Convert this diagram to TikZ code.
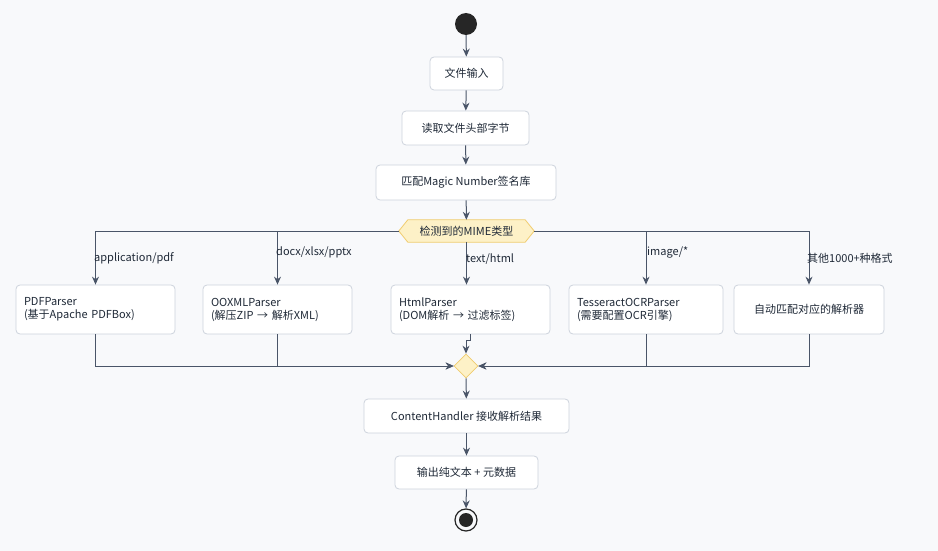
\documentclass[tikz,border=0pt]{standalone}
\usepackage{fontspec}
\setmainfont{Noto Sans CJK SC}
\usetikzlibrary{shapes.geometric,arrows.meta}
\definecolor{bg}{HTML}{F8F9FB}
\definecolor{bd}{HTML}{CDD3DC}
\definecolor{ln}{HTML}{4A5568}
\definecolor{tx}{HTML}{1F2937}
\definecolor{yf}{HTML}{FDF1C7}
\definecolor{yb}{HTML}{F0CC6E}
\begin{document}
\begin{tikzpicture}[x=1pt,y=-1pt,
 box/.style={draw=bd,fill=white,rounded corners=4pt,line width=0.8pt,font=\fontsize{11}{13}\selectfont,text=tx,inner sep=0pt},
 arr/.style={draw=ln,line width=1pt,-{Stealth[length=8pt,width=7pt]}},
 lab/.style={font=\fontsize{11}{13}\selectfont,text=tx,anchor=west,inner sep=1pt}]
\fill[bg] (0,0) rectangle (938,551);
\useasboundingbox (0,0) rectangle (938,551);
\node[circle,fill=black!85,minimum size=22pt,inner sep=0] (s) at (466,24) {};
\node[box,minimum width=73pt,minimum height=33pt] (a) at (466.5,73.5) {文件输入};
\node[box,minimum width=127pt,minimum height=34pt] (b) at (465.5,128) {读取文件头部字节};
\node[box,minimum width=180pt,minimum height=35pt] (c) at (466,182.5) {匹配Magic Number签名库};
\node[minimum width=135pt,minimum height=22pt,inner sep=0pt] (h) at (466.5,231) {};
\draw[draw=yb,fill=yf,line width=0.8pt] (h.west) -- ([xshift=9pt]h.north west) -- ([xshift=-9pt]h.north east) -- (h.east) -- ([xshift=-9pt]h.south east) -- ([xshift=9pt]h.south west) -- cycle;
\node[font=\fontsize{11}{13}\selectfont,text=tx,inner sep=0] at (h) {检测到的MIME类型};
\node[box,minimum width=159pt,minimum height=49pt,align=left,text width=143pt] (p1) at (95.5,309.5) {PDFParser\\(基于Apache PDFBox)};
\node[box,minimum width=149pt,minimum height=49pt,align=left,text width=133pt] (p2) at (277.5,309.5) {OOXMLParser\\(解压ZIP → 解析XML)};
\node[box,minimum width=159pt,minimum height=49pt,align=left,text width=143pt] (p3) at (470.5,309.5) {HtmlParser\\(DOM解析 → 过滤标签)};
\node[box,minimum width=154pt,minimum height=49pt,align=left,text width=138pt] (p4) at (646,309.5) {TesseractOCRParser\\(需要配置OCR引擎)};
\node[box,minimum width=150pt,minimum height=49pt] (p5) at (809,309.5) {自动匹配对应的解析器};
\node[diamond,draw=yb,fill=yf,line width=0.8pt,minimum width=24pt,minimum height=24pt,inner sep=0] (m) at (466,366) {};
\node[box,minimum width=205pt,minimum height=34pt] (d) at (466.5,416) {ContentHandler 接收解析结果};
\node[box,minimum width=143pt,minimum height=33pt] (e) at (466.5,472.5) {输出纯文本 + 元数据};
\node[circle,draw=black!85,line width=1.2pt,minimum size=22pt,inner sep=0] (t) at (466,520) {};
\fill[black!85] (t) circle (7pt);
\draw[arr] (s) -- (a);
\draw[arr] (a) -- (b);
\draw[arr] (b) -- (c);
\draw[arr] (c) -- (h);
\draw[arr] (h.west) -| (p1.north);
\draw[arr] (h.west) -| (p2.north);
\draw[arr] (h.south) -- (h.south |- p3.north);
\draw[arr] (h.east) -| (p4.north);
\draw[arr] (h.east) -| (p5.north);
\node[lab] at (93,258) {application/pdf};
\node[lab] at (275,252) {docx/xlsx/pptx};
\node[lab] at (465,259) {text/html};
\node[lab] at (646,252) {image/*};
\node[lab] at (806,258) {其他1000+种格式};
\draw[arr] (p1.south) |- (m.west);
\draw[arr] (p2.south) |- (m.west);
\draw[arr] (p4.south) |- (m.east);
\draw[arr] (p5.south) |- (m.east);
\draw[arr] (p3.south) -- ++(0,6) -| (m.north);
\draw[arr] (m) -- (d);
\draw[arr] (d) -- (e);
\draw[arr] (e) -- (t);
\end{tikzpicture}
\end{document}
